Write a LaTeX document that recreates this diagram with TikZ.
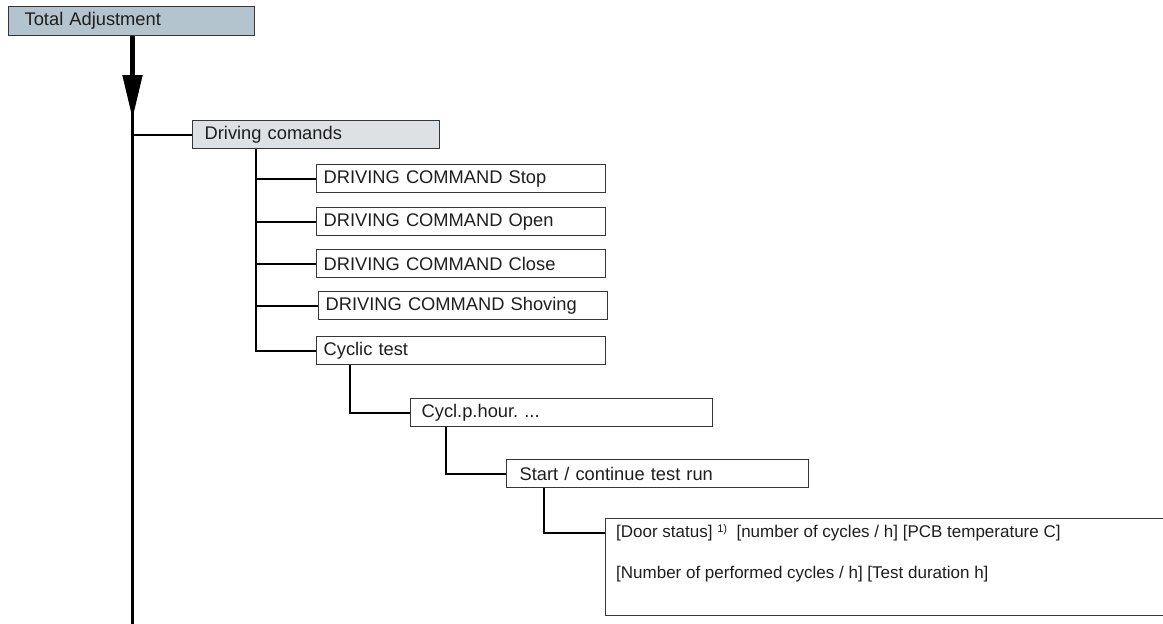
\documentclass[tikz,border=0pt]{standalone}
\usepackage{fontspec}
\setmainfont{Liberation Sans}
\usetikzlibrary{arrows.meta}
\definecolor{topfill}{RGB}{180,196,206}
\definecolor{subfill}{RGB}{221,225,228}
\definecolor{edgegray}{RGB}{55,55,55}
\definecolor{inkgray}{RGB}{30,30,30}
\frenchspacing
\begin{document}
\begin{tikzpicture}[x=1pt,y=-1pt,
  box/.style={draw=edgegray, line width=1.3pt, anchor=north west,
    minimum height=28pt, inner ysep=0pt, align=left, text=inkgray,
    font=\fontsize{18.3}{21}\selectfont},
  cmdbox/.style={box, inner xsep=7pt, text width=275pt},
  link/.style={line width=2pt, black},
  mainline/.style={line width=2.6pt, black},
  smalltext/.style={anchor=west, inner sep=0pt, text=inkgray,
    font=\fontsize{17}{20}\selectfont},
]
\useasboundingbox (0,0) rectangle (1163,624);

% menu boxes
\node[box, fill=topfill, minimum height=29pt, inner xsep=16pt, text width=214pt] (ta) at (8,6) {Total Adjustment};
\node[box, fill=subfill, inner xsep=12pt, text width=223pt] (drv) at (192,120) {Driving comands};
\node[cmdbox] (stop)  at (316,164) {DRIVING COMMAND Stop};
\node[cmdbox] (open)  at (316,207) {DRIVING COMMAND Open};
\node[cmdbox] (close) at (316,249) {DRIVING COMMAND Close};
\node[cmdbox] (shov)  at (318,291) {DRIVING COMMAND Shoving};
\node[cmdbox] (cyc)   at (316,336) {Cyclic test};
\node[box, inner xsep=11pt, text width=280pt] (cph) at (410,398) {Cycl.p.hour. ...};
\node[box, inner xsep=13pt, text width=276pt] (start) at (506,459) {Start / continue test run};
\node[draw=edgegray, line width=1.3pt, anchor=north west, minimum width=580pt,
  minimum height=97pt, inner sep=0pt] (big) at (605,518) {};
\node[smalltext] (l1) at (616,533) {[Door status] \raisebox{0.55ex}{\fontsize{11}{12}\selectfont 1)}\ \ [number of cycles / h] [PCB temperature C]};
\node[smalltext] (l2) at (616,574) {[Number of performed cycles / h] [Test duration h]};

% main trunk with the entry arrow
\coordinate (trunk) at (132.5,0);
\coordinate (trunkend) at (132.5,630);
\draw[line width=5pt, -{Triangle[width=19pt,length=44pt]}] (trunk |- ta.south) -- (132.5,119);
\draw[mainline] (132.5,112) -- (trunkend);
\draw[link] (trunk |- drv.west) -- (drv.west);

% driving command branches
\coordinate (v1) at (256,0);
\draw[link] (v1 |- drv.south) -- (v1 |- cyc.west) -- (cyc.west);
\foreach \n in {stop,open,close,shov}
  \draw[link] (v1 |- \n.west) -- (\n.west);

% cyclic test chain
\coordinate (v2) at (350,0);
\coordinate (v3) at (446,0);
\coordinate (v4) at (544,0);
\draw[link] (v2 |- cyc.south) |- (cph.west);
\draw[link] (v3 |- cph.south) |- (start.west);
\draw[link] (v4 |- start.south) |- (l1.west -| big.west);
\end{tikzpicture}
\end{document}
